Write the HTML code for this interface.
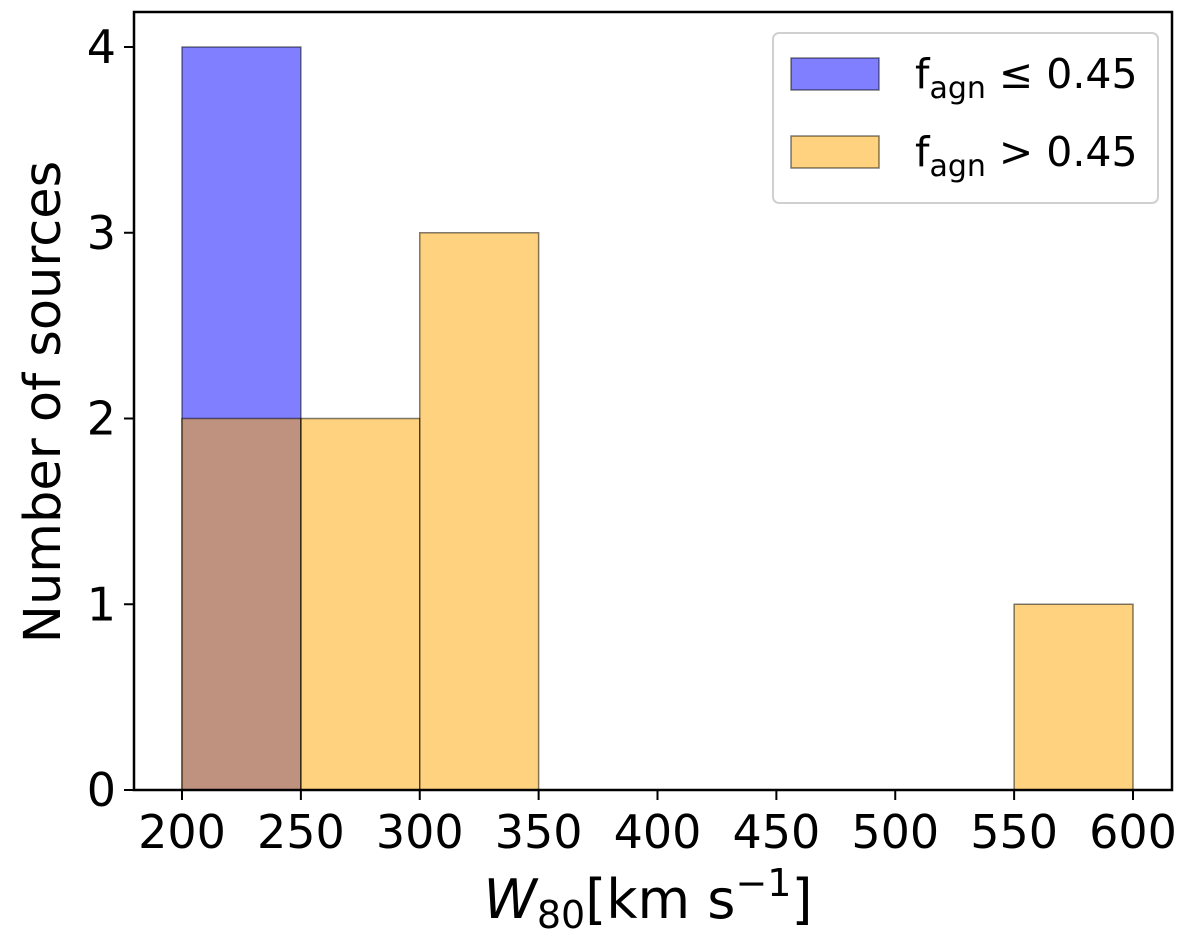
<!DOCTYPE html>
<html><head><meta charset="utf-8"><style>
body{margin:0;background:#fff;}
svg text{font-family:"DejaVu Sans","Liberation Sans",sans-serif;fill:#000;}
</style></head><body>
<svg id="chart" width="1200" height="945" xmlns="http://www.w3.org/2000/svg">
<g id="bars"></g>
<g id="axes"></g>
<g>
<rect x="773" y="33" width="385" height="170" rx="6" fill="#fff" stroke="#d0d0d0" stroke-width="2"/>
<rect x="791" y="58" width="88" height="32" fill="rgba(0,0,255,0.5)" stroke="rgba(0,0,0,0.5)" stroke-width="1.5"/>
<text x="915" y="88" font-size="41">f<tspan font-size="30" dy="10">agn</tspan><tspan dy="-10"> ≤ 0.45</tspan></text>
<rect x="791" y="136" width="88" height="32" fill="rgba(255,165,0,0.5)" stroke="rgba(0,0,0,0.5)" stroke-width="1.5"/>
<text x="915" y="166" font-size="41">f<tspan font-size="30" dy="10">agn</tspan><tspan dy="-10"> &gt; 0.45</tspan></text>
</g>
<text x="648" y="918" font-size="54" text-anchor="middle"><tspan font-style="italic">W</tspan><tspan font-size="38" dy="10">80</tspan><tspan dy="-10">[km s</tspan><tspan font-size="38" dy="-22">−1</tspan><tspan dy="22">]</tspan></text>
<text transform="translate(60,402) rotate(-90)" font-size="51" text-anchor="middle">Number of sources</text>
</svg>
<script>
const binEdges=[200,250,300,350,400,450,500,550,600];
const lowCounts=[4,0,0,0,0,0,0,0];
const highCounts=[2,2,3,0,0,0,0,1];
const xTicks=[200,250,300,350,400,450,500,550,600];
const yTicks=[0,1,2,3,4];
const L=134,R=1172,T=12,B=790;
const xs=v=>182+(v-200)*(1133-182)/400;
const ys=v=>790-v*(790-47)/4;
const NS="http://www.w3.org/2000/svg";
const bars=document.getElementById('bars'),axes=document.getElementById('axes');
function mk(p,t,a){const e=document.createElementNS(NS,t);for(const k in a)e.setAttribute(k,a[k]);p.appendChild(e);return e;}
[[lowCounts,'rgba(0,0,255,0.5)','low'],[highCounts,'rgba(255,165,0,0.5)','high']].forEach(([arr,c,n])=>{
arr.forEach((v,i)=>{if(!v)return;
const r=mk(bars,'rect',{x:xs(binEdges[i]),y:ys(v),width:xs(binEdges[i+1])-xs(binEdges[i]),height:ys(0)-ys(v),fill:c,stroke:'rgba(0,0,0,0.5)','stroke-width':1.5});

});});
const f=mk(axes,'rect',{x:L,y:T,width:R-L,height:B-T,fill:'none',stroke:'#000','stroke-width':2.5});


xTicks.forEach(v=>{const x=xs(v);mk(axes,'line',{x1:x,x2:x,y1:B,y2:B+10,stroke:'#000','stroke-width':2});
const t=mk(axes,'text',{x:x,y:B+58,'font-size':46,'text-anchor':'middle'});t.textContent=v;

});
yTicks.forEach(v=>{const y=ys(v);mk(axes,'line',{x1:L-10,x2:L,y1:y,y2:y,stroke:'#000','stroke-width':2});
const t=mk(axes,'text',{x:L-18,y:y+16,'font-size':46,'text-anchor':'end'});t.textContent=v;

});
</script>
</body></html>
